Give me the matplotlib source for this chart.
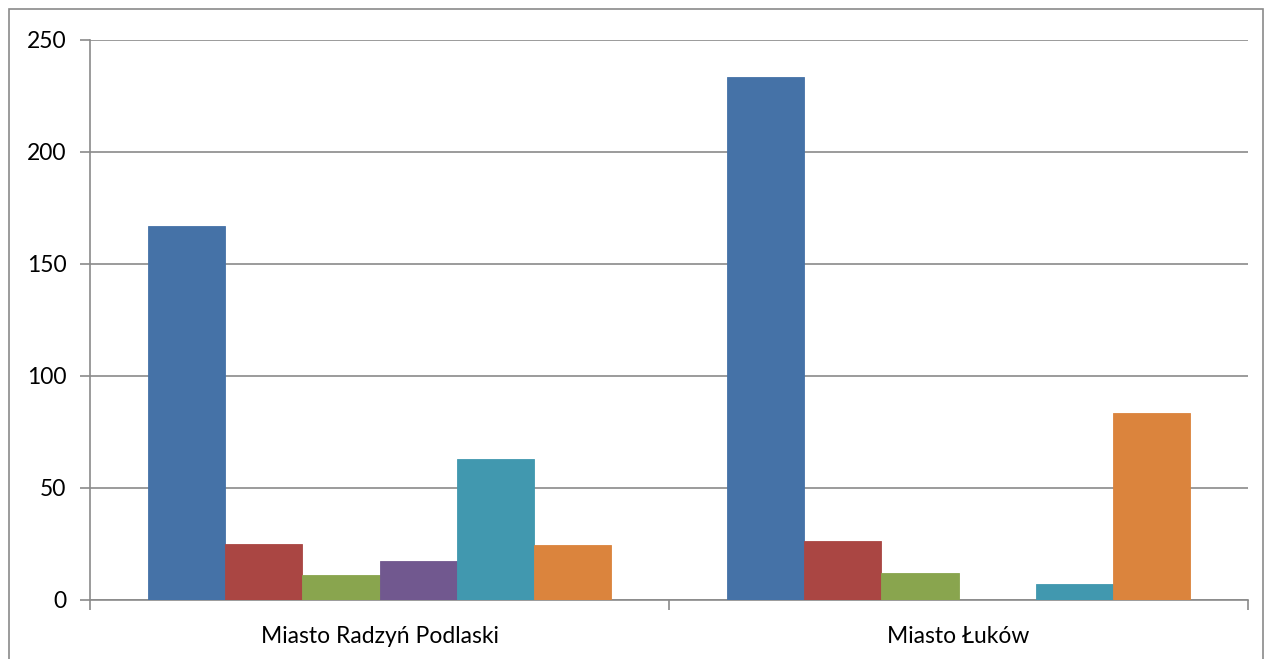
import matplotlib
matplotlib.use("Agg")
import matplotlib.pyplot as plt
import numpy as np
from matplotlib.patches import Rectangle

categories = ["Miasto Radzyń Podlaski", "Miasto Łuków"]
s1 = [167, 233.7]
s2 = [24.8, 26.4]
s3 = [11.0, 12.1]
s4 = [17.4, 0]
s5 = [63.0, 7.1]
s6 = [24.5, 83.6]
series = [s1, s2, s3, s4, s5, s6]
colors = ["#4572A7", "#AA4643", "#89A54E", "#71588F", "#4198AF", "#DB843D"]
yticks = [0, 50, 100, 150, 200, 250]

plt.rcParams['font.family'] = ['Lato', 'DejaVu Sans']

W, H = 1266, 659
fig = plt.figure(figsize=(W / 100, H / 100), dpi=100)
ax = fig.add_axes([90 / W, (H - 600) / H, 1158 / W, 560 / H])

x = np.arange(len(categories))
bw = 1 / 7.5
for i, (vals, c) in enumerate(zip(series, colors)):
    ax.bar(x + (i - 2.5) * bw, vals, width=bw, color=c, edgecolor=c,
           linewidth=0.6, zorder=3)

ax.set_xlim(-0.5, len(categories) - 0.5)
ax.set_ylim(0, 250)
ax.set_yticks(yticks)
ax.set_yticklabels([str(t) for t in yticks], fontsize=16.5)
ax.yaxis.grid(True, color="#8a8a8a", linewidth=1.2, zorder=0)
ax.set_axisbelow(True)

ax.set_xticks(x)
ax.set_xticklabels(categories, fontsize=16.5)
ax.tick_params(axis='x', which='major', length=0, pad=19)
ax.set_xticks(np.arange(-0.5, len(categories), 1.0), minor=True)
ax.tick_params(axis='x', which='minor', length=7, color="#8a8a8a", width=1.2)
ax.tick_params(axis='y', length=7, color="#8a8a8a", width=1.2, pad=10)

for s in ["top", "right"]:
    ax.spines[s].set_visible(False)
for s in ["left", "bottom"]:
    ax.spines[s].set_color("#8a8a8a")
    ax.spines[s].set_linewidth(1.2)

fig.patches.append(Rectangle((8.5 / W, -0.01), (W - 12) / W, (H - 8.5) / H + 0.01,
                             transform=fig.transFigure, fill=False,
                             edgecolor="#8a8a8a", linewidth=1.2))

fig.savefig("out.png", dpi=100)
